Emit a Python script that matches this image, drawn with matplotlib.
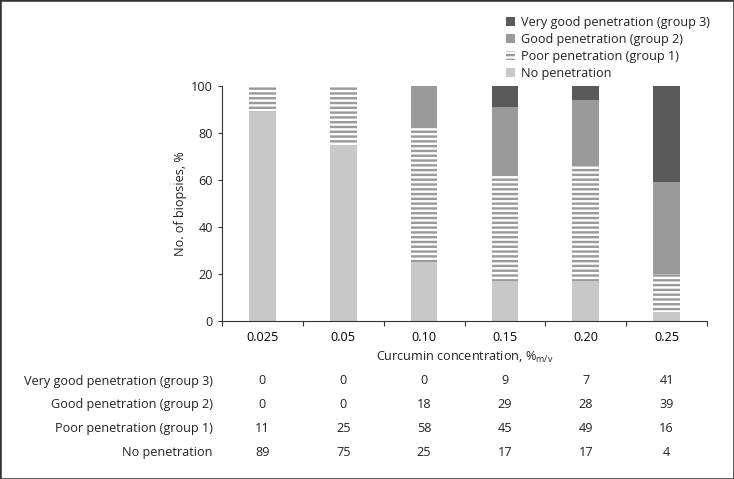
import matplotlib
matplotlib.use('Agg')
import matplotlib.pyplot as plt
from matplotlib.patches import Rectangle
from matplotlib.transforms import blended_transform_factory
import numpy as np

concentrations = ['0.025', '0.05', '0.10', '0.15', '0.20', '0.25']
series_names = ['No penetration', 'Poor penetration (group 1)',
                'Good penetration (group 2)', 'Very good penetration (group 3)']
no_pen = [89, 75, 25, 17, 17, 4]
poor = [11, 25, 58, 45, 49, 16]
good = [0, 0, 18, 29, 28, 39]
very_good = [0, 0, 0, 9, 7, 41]
series_values = [no_pen, poor, good, very_good]
y_ticks = [0, 20, 40, 60, 80, 100]

DPI = 115
W, H = 734, 479
FS = 7.9
plt.rcParams['font.family'] = ['Open Sans', 'DejaVu Sans']
plt.rcParams['hatch.linewidth'] = 1.5
plt.rcParams['font.size'] = FS
plt.rcParams['mathtext.default'] = 'regular'

fig = plt.figure(figsize=(W / DPI, H / DPI), dpi=DPI)
ax = fig.add_axes([222 / W, 1 - 321 / H, 485 / W, 235 / H])

x = np.arange(len(concentrations))
bw = 0.33
styles = [
    dict(facecolor='#c8c8c8', edgecolor='#c8c8c8', linewidth=0),
    dict(facecolor='white', edgecolor='#9a9a9a', hatch='----', linewidth=0),
    dict(facecolor='#9a9a9a', edgecolor='#9a9a9a', linewidth=0),
    dict(facecolor='#5a5a5a', edgecolor='#5a5a5a', linewidth=0),
]
bottom = np.zeros(len(concentrations))
handles = []
for name, vals, st in zip(series_names, series_values, styles):
    vals = np.array(vals, dtype=float)
    bc = ax.bar(x, vals, bw, bottom=bottom, label=name, **st)
    handles.append(bc)
    bottom += vals

ax.set_xlim(-0.5, len(concentrations) - 0.5)
ax.set_ylim(0, 100)
ax.set_yticks(y_ticks)
ax.set_xticks(np.arange(-0.5, len(concentrations), 1))
ax.set_xticklabels([])
ax.set_xticks(x, minor=True)
ax.set_xticklabels(concentrations, minor=True)
ax.tick_params(axis='x', which='minor', length=0, pad=6)
ax.tick_params(axis='x', which='major', length=3.2, width=0.7, color='#333333', direction='out')
ax.tick_params(axis='y', length=2.6, width=0.7, color='#333333', pad=3)
ax.tick_params(labelsize=FS, labelcolor='#222222')
for s in ['top', 'right']:
    ax.spines[s].set_visible(False)
for s in ['left', 'bottom']:
    ax.spines[s].set_linewidth(0.7)
    ax.spines[s].set_color('#333333')

ax.set_ylabel('No. of biopsies, %', fontsize=FS, color='#222222', labelpad=2.5)
ax.set_xlabel('Curcumin concentration, %$_{\\mathregular{m/v}}$', fontsize=FS,
              color='#222222', labelpad=4)

leg = fig.legend(handles[::-1], series_names[::-1], loc='upper left',
                 bbox_to_anchor=(506 / W, 1 - 16 / H), frameon=False,
                 borderpad=0, borderaxespad=0, handlelength=0.75, handleheight=0.75,
                 handletextpad=0.45, labelspacing=0.32, fontsize=FS)
for t in leg.get_texts():
    t.set_color('#222222')

# table below chart
trans = blended_transform_factory(ax.transData, fig.transFigure)
row_y = [381, 404, 428, 452]
for name, vals, ry in zip(series_names[::-1], series_values[::-1], row_y):
    fig.text(213 / W, 1 - ry / H, name, ha='right', va='center',
             fontsize=FS, color='#222222')
    for xi, v in zip(x, vals):
        ax.text(xi, 1 - ry / H, str(v), transform=trans, ha='center',
                va='center', fontsize=FS, color='#222222', clip_on=False)

fig.patches.append(Rectangle((0, 0), 1, 1, transform=fig.transFigure,
                             fill=False, edgecolor='#333333', linewidth=1.6))

fig.savefig('out.png', dpi=DPI)
